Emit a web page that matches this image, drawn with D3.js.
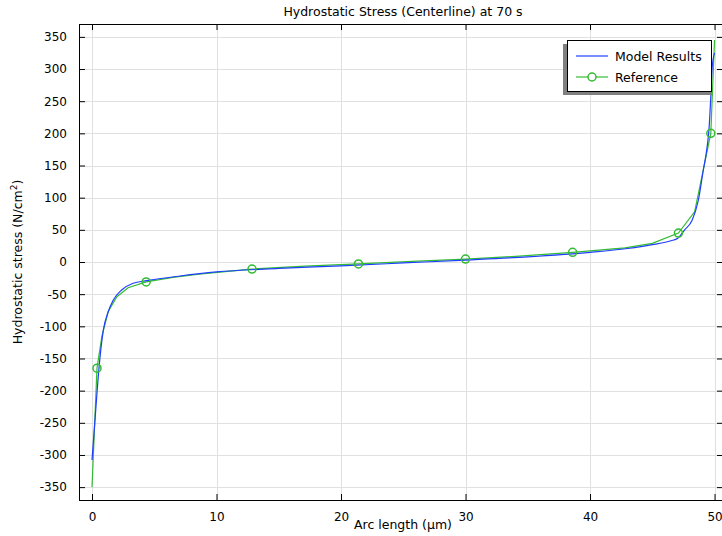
<!DOCTYPE html>
<html lang="en">
  <head>
    <meta charset="utf-8">
    <title>Hydrostatic Stress</title>
    <script src="https://d3js.org/d3.v7.min.js"></script>
    <style>
      body { margin: 0; background: #fff; }
      text { font-family: "DejaVu Sans", sans-serif; fill: #000; }
      .tick text { font-size: 12px; }
    </style>
  </head>
  <body>
    <script>
      // model results (blue line)
      var modelX = [0, 0.28, 0.56, 0.91, 1.31, 1.71, 2.38, 3.3, 4.4, 7.07, 10, 15, 20, 25, 30, 35, 40, 43, 45, 46.5, 47.05, 47.6, 48.2, 48.7, 49.1, 49.37, 49.55, 49.7, 49.8, 50];
      var modelY = [-308, -235, -165, -106, -77, -59, -43.5, -33, -29, -21.8, -15.5, -10, -6, -1.5, 3, 8, 15, 21, 27, 33, 37, 50, 65, 96, 143, 174, 205, 257, 300, 325];

      // reference (green line + circles)
      var refX = [0, 0.4, 0.8, 1.3, 2.0, 2.9, 4.35, 6.5, 8.6, 10.7, 12.85, 17.1, 21.4, 25.7, 30.0, 34.3, 38.6, 42.8, 45, 47.1, 48.4, 49.7, 50];
      var refY = [-350, -165, -115, -77, -54, -40, -31, -24, -19, -15, -11, -6.5, -3, 1, 4.5, 9, 15, 22, 29, 45, 78, 200, 345];
      var refMarkers = [1, 6, 10, 12, 14, 16, 19, 21];

      var xTicks = [0, 10, 20, 30, 40, 50];
      var yTicks = [-350, -300, -250, -200, -150, -100, -50, 0, 50, 100, 150, 200, 250, 300, 350];

      var outerWidth = 722, outerHeight = 536;
      var plot = { left: 79, right: 723, top: 24, bottom: 500 };

      var xScale = d3.scaleLinear().domain([-1.045, 50.68]).range([plot.left, plot.right]);
      var yScale = d3.scaleLinear().domain([-370, 370]).range([plot.bottom, plot.top]);

      var svg = d3.select("body").append("svg")
        .attr("width", outerWidth)
        .attr("height", outerHeight);

      // grid
      svg.append("g").selectAll("line").data(xTicks).enter().append("line")
        .attr("x1", function(d) { return Math.round(xScale(d)) + 0.5; })
        .attr("x2", function(d) { return Math.round(xScale(d)) + 0.5; })
        .attr("y1", plot.top).attr("y2", plot.bottom)
        .attr("stroke", "#e0e0e0");
      svg.append("g").selectAll("line").data(yTicks).enter().append("line")
        .attr("y1", function(d) { return Math.round(yScale(d)) + 0.5; })
        .attr("y2", function(d) { return Math.round(yScale(d)) + 0.5; })
        .attr("x1", plot.left).attr("x2", plot.right)
        .attr("stroke", "#e0e0e0");

      // axes, ticks inward, plain hyphen for negatives
      var fmt = function(d) { return String(d); };
      var bottomAxis = d3.axisBottom(xScale).tickValues(xTicks).tickFormat(fmt).tickSizeInner(-6).tickSizeOuter(0).tickPadding(12);
      var topAxis = d3.axisTop(xScale).tickValues(xTicks).tickSizeInner(-6).tickSizeOuter(0).tickFormat("");
      var leftAxis = d3.axisLeft(yScale).tickValues(yTicks).tickFormat(fmt).tickSizeInner(-6).tickSizeOuter(0).tickPadding(12);
      var rightAxis = d3.axisRight(yScale).tickValues(yTicks).tickSizeInner(-6).tickSizeOuter(0).tickFormat("");

      svg.append("g").attr("transform", "translate(0," + plot.bottom + ")").call(bottomAxis);
      svg.append("g").attr("transform", "translate(0," + plot.top + ")").call(topAxis);
      svg.append("g").attr("transform", "translate(" + plot.left + ",0)").call(leftAxis);
      svg.append("g").attr("transform", "translate(" + plot.right + ",0)").call(rightAxis);
      svg.selectAll(".domain").remove();

      // frame
      svg.append("rect")
        .attr("x", plot.left + 0.5).attr("y", plot.top + 0.5)
        .attr("width", plot.right - plot.left).attr("height", plot.bottom - plot.top)
        .attr("fill", "none").attr("stroke", "#000");

      var line = d3.line()
        .x(function(d) { return xScale(d[0]); })
        .y(function(d) { return yScale(d[1]); });

      var modelData = modelX.map(function(x, i) { return [x, modelY[i]]; });
      var refData = refX.map(function(x, i) { return [x, refY[i]]; });

      svg.append("path").datum(refData)
        .attr("d", line)
        .attr("fill", "none").attr("stroke", "#33bb33").attr("stroke-width", 1.2);

      svg.append("path").datum(modelData)
        .attr("d", d3.line().curve(d3.curveMonotoneX)
          .x(function(d) { return xScale(d[0]); })
          .y(function(d) { return yScale(d[1]); }))
        .attr("fill", "none").attr("stroke", "#1f3fff").attr("stroke-width", 1.2);

      svg.append("g").selectAll("circle").data(refMarkers).enter().append("circle")
        .attr("cx", function(i) { return xScale(refX[i]); })
        .attr("cy", function(i) { return yScale(refY[i]); })
        .attr("r", 4)
        .attr("fill", "none").attr("stroke", "#33bb33").attr("stroke-width", 1.5);

      // title + axis labels
      svg.append("text")
        .attr("x", 403).attr("y", 16)
        .attr("text-anchor", "middle").style("font-size", "12.5px")
        .text("Hydrostatic Stress (Centerline) at 70 s");

      svg.append("text")
        .attr("x", 403).attr("y", 529)
        .attr("text-anchor", "middle").style("font-size", "12.5px")
        .text("Arc length (µm)");

      var yLabel = svg.append("text")
        .attr("transform", "translate(22,262) rotate(-90)")
        .attr("text-anchor", "middle").style("font-size", "12.5px");
      yLabel.append("tspan").text("Hydrostatic stress (N/cm");
      yLabel.append("tspan").attr("dy", -5).style("font-size", "9px").text("2");
      yLabel.append("tspan").attr("dy", 5).text(")");

      // legend
      var legend = svg.append("g");
      legend.append("rect")
        .attr("x", 563).attr("y", 44).attr("width", 149).attr("height", 51)
        .attr("fill", "#808080");
      legend.append("rect")
        .attr("x", 567.5).attr("y", 40.5).attr("width", 144).attr("height", 51)
        .attr("fill", "#fff").attr("stroke", "#000");

      legend.append("line")
        .attr("x1", 576).attr("x2", 608).attr("y1", 56).attr("y2", 56)
        .attr("stroke", "#1f3fff").attr("stroke-width", 1.2);
      legend.append("text")
        .attr("x", 615).attr("y", 61).style("font-size", "12.5px")
        .text("Model Results");

      legend.append("line")
        .attr("x1", 576).attr("x2", 608).attr("y1", 77).attr("y2", 77)
        .attr("stroke", "#33bb33").attr("stroke-width", 1.2);
      legend.append("circle")
        .attr("cx", 592).attr("cy", 77).attr("r", 4)
        .attr("fill", "#fff").attr("stroke", "#33bb33").attr("stroke-width", 1.5);
      legend.append("text")
        .attr("x", 615).attr("y", 82).style("font-size", "12.5px")
        .text("Reference");
    </script>
  </body>
</html>
